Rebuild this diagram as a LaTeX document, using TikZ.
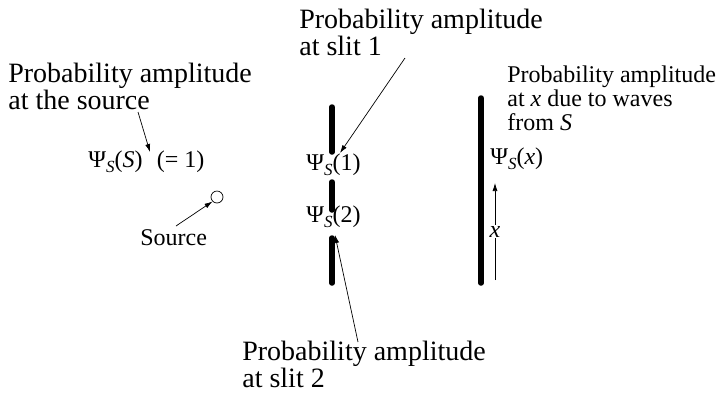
\documentclass[tikz,border=0pt]{standalone}
\usepackage{fontspec}
\setmainfont{Liberation Serif}
\usetikzlibrary{arrows.meta}

\newcommand{\psisub}{Ψ\raisebox{-0.22em}{\fontsize{17}{17}\selectfont\textit{S}}}

\begin{document}
\begin{tikzpicture}[x=1pt, y=-1pt, >={Latex[length=8pt,width=5pt]},
    every path/.style={line width=0.7pt},
    note/.style={font=\fontsize{28}{24}\selectfont, align=left, inner sep=0pt, anchor=north west},
    smallnote/.style={font=\fontsize{24}{24}\selectfont, align=left, inner sep=0pt, anchor=north west},
    lbl/.style={font=\fontsize{24}{24}\selectfont, inner sep=0pt, anchor=base west},
    barrier/.style={line width=5.5pt, line cap=round}]
  \useasboundingbox (0,0) rectangle (721,392);

  % source side
  \node[note] (srcnote) at (8,63) {Probability amplitude\\at the source};
  \node[lbl] (psiSS) at (88,167) {\psisub(\textit{S})\hspace{0.35em} (= 1)};
  \node[draw, circle, minimum size=12pt, inner sep=0pt] (src) at (217,197) {};
  \node[lbl] (srclbl) at (140,245) {Source};
  \coordinate (a1) at (138,112);
  \coordinate (a1tip) at (150,152);
  \draw[->] (a1) -- (a1tip);
  \coordinate (a2) at (176,226);
  \draw[->] (a2) -- (src.south west);

  % double slit
  \draw[barrier] (332,107) coordinate (s1top) -- (332,152) coordinate (s1bot);
  \draw[barrier] (332,182) coordinate (s2top) -- (332,210) coordinate (s2bot);
  \draw[barrier] (332,238) coordinate (s3top) -- (332,283) coordinate (s3bot);
  \node[lbl] (psi1) at (306,170) {\psisub(1)};
  \node[lbl] (psi2) at (306,222) {\psisub(2)};
  \node[note] (slit1note) at (299,9) {Probability amplitude\\at slit 1};
  \node[note] (slit2note) at (242,341) {Probability amplitude\\at slit 2};
  \coordinate (b1) at (405,58);
  \coordinate (b1tip) at (340,153);
  \coordinate (b2) at (358,342);
  \coordinate (b2tip) at (335,235);
  \draw[->] (b1) -- (b1tip);
  \draw[->] (b2) -- (b2tip);

  % screen
  \draw[barrier] (481,98) coordinate (scrtop) -- (481,283) coordinate (scrbot);
  \node[smallnote] (scrnote) at (507,65) {Probability amplitude\\at \textit{x} due to waves\\from \textit{S}};
  \node[lbl] (psix) at (490,164) {\psisub(\textit{x})};
  \coordinate (xbot) at (495,280);
  \coordinate (xtop) at (495,183);
  \draw[->] (xbot) -- node[fill=white, inner sep=1pt, font=\fontsize{24}{24}\selectfont\itshape] (xlbl) {x} (xtop);
\end{tikzpicture}
\end{document}
